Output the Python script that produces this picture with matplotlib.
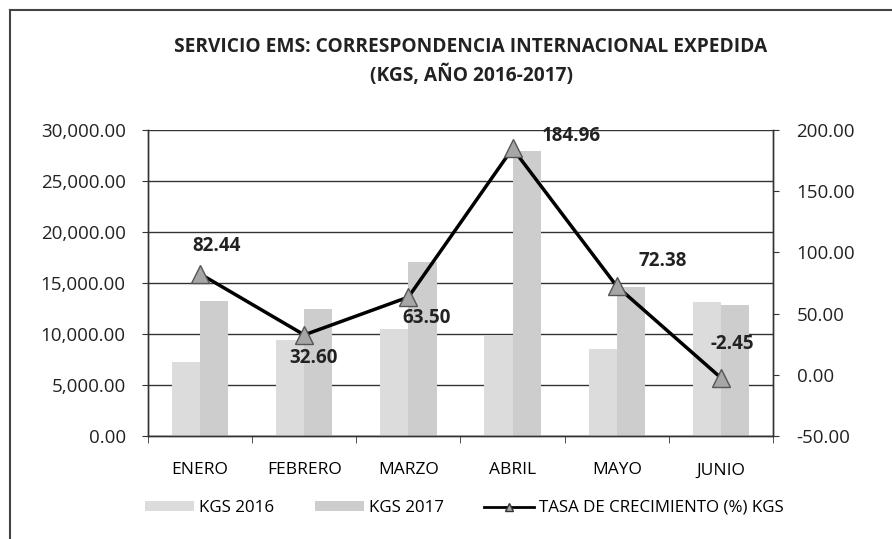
import matplotlib
matplotlib.use('Agg')

import matplotlib.pyplot as plt
import matplotlib.ticker as ticker
from matplotlib.lines import Line2D
import numpy as np

plt.rcParams.update({
    'font.family': ['Open Sans', 'DejaVu Sans'],
    'axes.linewidth': 1.0,
})

# data
months = ['ENERO', 'FEBRERO', 'MARZO', 'ABRIL', 'MAYO', 'JUNIO']
kgs_2016 = [7250, 9420, 10460, 9820, 8500, 13170]
kgs_2017 = [13230, 12490, 17100, 27980, 14650, 12850]
tasa = [82.44, 32.60, 63.50, 184.96, 72.38, -2.45]

# label offsets (points)
lbl_off = [(12, 20), (6.5, -16.5), (13, -15), (42, 9), (33, 18), (8, 24)]

fig = plt.figure(figsize=(8.92, 5.39), dpi=100)
ax = fig.add_axes([148 / 892, 1 - 436 / 539, 625 / 892, 306 / 539])
ax2 = ax.twinx()

x = np.arange(len(months))
w = 0.27
ax.bar(x - w / 2, kgs_2016, width=w, color='#dcdcdc', label='KGS 2016', zorder=2)
ax.bar(x + w / 2, kgs_2017, width=w, color='#cdcdcd', label='KGS 2017', zorder=2)

ax.set_ylim(0, 30000)
ax.yaxis.set_major_locator(ticker.MultipleLocator(5000))
ax.yaxis.set_major_formatter(ticker.FuncFormatter(lambda v, p: f'{v:,.2f}'))
ax.grid(axis='y', color='#333333', linewidth=1.0, zorder=1)
ax.set_axisbelow(True)
ax.set_xlim(-0.5, 5.5)
ax.set_xticks(x)
ax.set_xticklabels(months, fontsize=12.5)
ax.set_xticks(np.arange(-0.5, 6, 1), minor=True)
ax.tick_params(axis='x', which='major', length=0, pad=19)
ax.tick_params(axis='x', which='minor', length=5, color='#333333')
ax.tick_params(axis='y', labelsize=13.5, length=4, color='#333333', pad=12,
               labelcolor='#222222')

ax2.plot(x, tasa, color='black', linewidth=2.5, marker='^', markersize=13,
         markerfacecolor='#a6a6a6', markeredgecolor='#555555', markeredgewidth=1.0,
         zorder=5)
ax2.set_ylim(-50, 200)
ax2.yaxis.set_major_locator(ticker.MultipleLocator(50))
ax2.yaxis.set_major_formatter(ticker.FuncFormatter(lambda v, p: f'{v:.2f}'))
ax2.tick_params(axis='y', labelsize=13.5, length=4, color='#333333', pad=13,
                labelcolor='#222222')

for i, v in enumerate(tasa):
    ax2.annotate(f'{v:.2f}', (x[i], v), xytext=lbl_off[i], textcoords='offset points',
                 ha='center', va='center', fontsize=13.5, fontweight='bold', color='#222222')

for a in (ax, ax2):
    a.spines['top'].set_visible(False)
    for s in ('left', 'right', 'bottom'):
        a.spines[s].set_color('#333333')

fig.text(471 / 892, 1 - 47 / 539, 'SERVICIO EMS: CORRESPONDENCIA INTERNACIONAL EXPEDIDA',
         ha='center', va='center', fontsize=13.8, fontweight='bold', color='#222222')
fig.text(471 / 892, 1 - 75 / 539, '(KGS, AÑO 2016-2017)',
         ha='center', va='center', fontsize=13.8, fontweight='bold', color='#222222')

h1, l1 = ax.get_legend_handles_labels()
line_proxy = Line2D([], [], color='black', linewidth=2, marker='^', markersize=6,
                    markerfacecolor='#a6a6a6', markeredgecolor='#333333')
fig.legend(h1 + [line_proxy], l1 + ['TASA DE CRECIMIENTO (%) KGS'], loc='center',
           bbox_to_anchor=(464 / 892, 1 - 508 / 539), ncol=3, frameon=False,
           fontsize=12.2, handlelength=2.9, handleheight=0.45,
           columnspacing=2.4, handletextpad=0.3)

# frame of the original sheet
fig.add_artist(Line2D([10 / 892, 10 / 892], [0, 1 - 10 / 539], transform=fig.transFigure,
                      color='#444444', linewidth=1.5))
fig.add_artist(Line2D([10 / 892, 1], [1 - 10 / 539, 1 - 10 / 539], transform=fig.transFigure,
                      color='#444444', linewidth=1.5))

fig.savefig('out.png', dpi=100)
